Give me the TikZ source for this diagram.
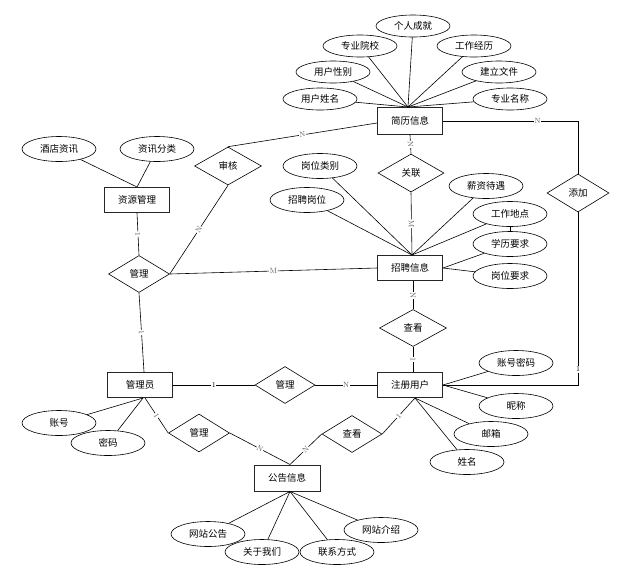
\documentclass[tikz,border=0pt]{standalone}
\usepackage{fontspec}
\newfontfamily\cjk{Noto Sans CJK SC}
\usetikzlibrary{shapes.geometric}
\begin{document}
\begin{tikzpicture}[x=1pt,y=-1pt,
  every node/.style={inner sep=0pt},
  ent/.style={draw=black!85, line width=1pt, minimum width=65pt, minimum height=26pt, font=\cjk\fontsize{9.5}{11}\selectfont},
  rel/.style={diamond, draw, line width=0.6pt, minimum width=62pt, minimum height=38pt, font=\cjk\fontsize{9.5}{11}\selectfont},
  att/.style={ellipse, draw, line width=0.6pt, minimum width=74pt, minimum height=25pt, font=\cjk\fontsize{9.5}{11}\selectfont},
  attt/.style={att, minimum height=22pt},
  ln/.style={line width=0.6pt},
  mk/.style={fill=white, inner sep=0.6pt, text=black!65, font=\fontsize{7.5}{8}\selectfont},
]
\useasboundingbox[fill=white] (0,0) rectangle (620,571);

% entities
\node[ent, minimum height=27pt] (jl) at (410,121) {简历信息};
\node[ent, minimum height=25pt] (zy) at (137,200) {资源管理};
\node[ent, minimum height=25pt] (zp) at (410,268) {招聘信息};
\node[ent, minimum height=25pt] (gly) at (140,385) {管理员};
\node[ent, minimum height=25pt] (zc) at (410,385) {注册用户};
\node[ent, minimum width=66pt] (gg) at (287,478) {公告信息};

% relations
\node[rel, minimum width=67pt] (sh) at (228,166) {审核};
\node[rel, minimum width=61pt, minimum height=37pt] (glA) at (139,274) {管理};
\node[rel, minimum width=66pt] (gl) at (411,173) {关联};
\node[rel] (tj) at (578,193) {添加};
\node[rel, minimum width=67pt, minimum height=37pt] (ck) at (413,328) {查看};
\node[rel, minimum width=60pt, minimum height=37pt] (glB) at (285,385) {管理};
\node[rel, minimum width=61pt] (glC) at (199,433) {管理};
\node[rel, minimum width=60pt, minimum height=37pt] (ckB) at (352,434) {查看};

% attributes of 简历信息
\node[attt] (grcj) at (413,26) {个人成就};
\node[attt] (zyyx) at (360,46) {专业院校};
\node[attt] (gzjl) at (474,46) {工作经历};
\node[attt] (yhxb) at (333,72) {用户性别};
\node[attt] (jlwj) at (499,72) {建立文件};
\node[attt] (yhxm) at (320,99) {用户姓名};
\node[attt] (zymc) at (510,99) {专业名称};
\foreach \a in {grcj,zyyx,gzjl,yhxb,jlwj,yhxm,zymc} \draw[ln] (\a) -- ([xshift=-2pt]jl.north);

% attributes of 资源管理
\node[att] (jdzx) at (59,149) {酒店资讯};
\node[att] (zxfl) at (157,149) {资讯分类};
\draw[ln] (jdzx) -- (zy.north);
\draw[ln] (zxfl) -- (zy.north);

% attributes of 招聘信息
\node[att] (gwlb) at (320,166) {岗位类别};
\node[att] (zpgw) at (307,200) {招聘岗位};
\node[att] (xzdy) at (486,186) {薪资待遇};
\node[att] (gzdd) at (510,214) {工作地点};
\node[att] (xlyq) at (510,244) {学历要求};
\node[att] (gwyq) at (510,276) {岗位要求};
\foreach \a in {gwlb,zpgw,xzdy,gzdd} \draw[ln] (\a) -- ([xshift=2pt]zp.north);
\draw[ln] (gzdd) -- (xlyq);
\draw[ln] (xlyq) -- (zp.east);
\draw[ln] (gwyq) -- (zp.east);

% attributes of 管理员
\coordinate (glys) at ([xshift=3pt]gly.south);
\node[att] (zh) at (59,423) {账号};
\node[att] (mm) at (108,443) {密码};
\draw[ln] (zh) -- (glys);
\draw[ln] (mm) -- (glys);

% attributes of 注册用户
\coordinate (zcs) at ([xshift=5pt]zc.south);
\node[att] (zhmm) at (516,363) {账号密码};
\node[att] (nc) at (516,406) {昵称};
\node[att] (yx) at (491,434) {邮箱};
\node[att] (xm) at (467,462) {姓名};
\draw[ln] (zhmm) -- (zc.east);
\draw[ln] (nc) -- (zc.east);
\draw[ln] (yx) -- (zcs);
\draw[ln] (xm) -- (zcs);

% attributes of 公告信息
\coordinate (ggs) at ([xshift=3pt]gg.south);
\node[att] (wzgg) at (208,534) {网站公告};
\node[att] (gywm) at (262,552) {关于我们};
\node[att] (lxfs) at (337,552) {联系方式};
\node[att] (wzjs) at (381,530) {网站介绍};
\foreach \a in {wzgg,gywm,lxfs,wzjs} \draw[ln] (\a) -- (ggs);

% relationship connectors
\draw[ln] (sh.north) -- node[mk,sloped]{N} ([yshift=-2pt]jl.west);
\draw[ln] (sh.south) -- node[mk,sloped]{N} (glA.east);
\draw[ln] (zy.south) -- node[mk,sloped]{1} (glA.north);
\draw[ln] (glA.east) -- node[mk,sloped]{M} (zp.west);
\draw[ln] (glA.south) -- node[mk,sloped]{1} ([xshift=4pt]gly.north);
\draw[ln] (jl.south) -- node[mk,sloped]{N} (gl.north);
\draw[ln] (gl.south) -- node[mk,sloped]{M} ([xshift=2pt]zp.north);
\draw[ln] (jl.east) -- node[mk,pos=0.7]{N} (jl.east -| tj.north) -- (tj.north);
\draw[ln] (tj.south) -- node[mk,pos=0.91,text=black]{1} (tj.south |- zc.east) -- (zc.east);
\draw[ln] ([xshift=3pt]zp.south) -- node[mk,sloped]{N} (ck.north);
\draw[ln] (ck.south) -- node[mk,sloped]{1} ([xshift=3pt]zc.north);
\draw[ln] (gly.east) -- node[mk,text=black]{1} (glB.west);
\draw[ln] (glB.east) -- node[mk]{N} (zc.west);
\draw[ln] ([xshift=5pt]gly.south) -- node[mk,sloped]{1} (glC.west);
\draw[ln] (glC.east) -- node[mk,sloped]{N} (ggs |- gg.north);
\draw[ln] (ckB.west) -- node[mk,sloped]{N} (ggs |- gg.north);
\draw[ln] (ckB.east) -- node[mk,sloped]{1} (zcs);
\end{tikzpicture}
\end{document}
